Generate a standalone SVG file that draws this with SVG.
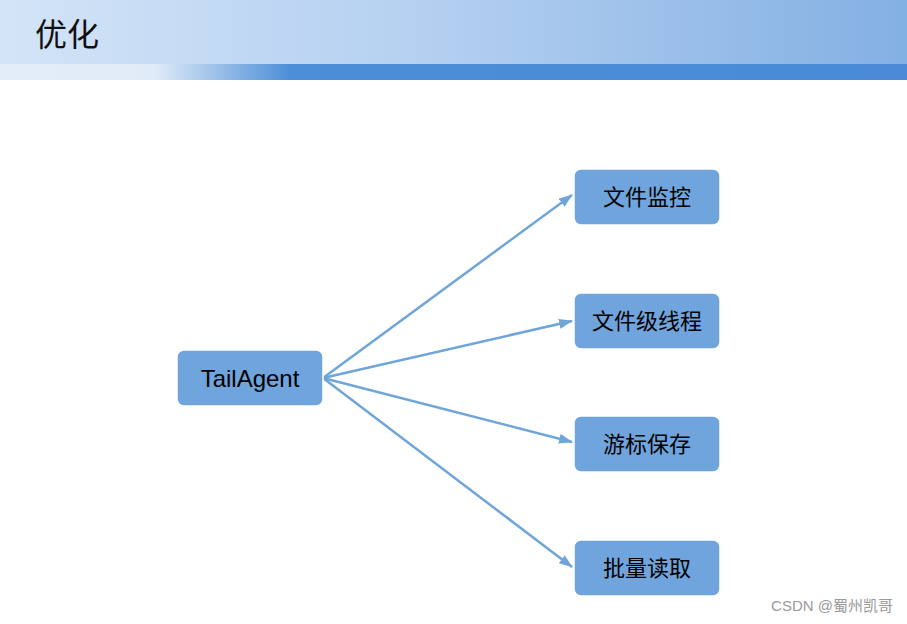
<svg xmlns="http://www.w3.org/2000/svg" width="907" height="624" viewBox="0 0 907 624">
<defs>
<linearGradient id="hdr" x1="0" y1="0" x2="1" y2="0">
<stop offset="0" stop-color="#d3e4f7"/>
<stop offset="0.5" stop-color="#b2cef0"/>
<stop offset="1" stop-color="#83b0e3"/>
</linearGradient>
<linearGradient id="band" x1="0" y1="0" x2="1" y2="0">
<stop offset="0" stop-color="#e3edf8"/>
<stop offset="0.17" stop-color="#e0ebf8"/>
<stop offset="0.32" stop-color="#4d8ed8"/>
<stop offset="1" stop-color="#4a8ad6"/>
</linearGradient>
<marker id="ah" viewBox="0 0 14 10" refX="13" refY="5" markerWidth="14" markerHeight="10" markerUnits="userSpaceOnUse" orient="auto">
<path d="M0,0 L14,5 L0,10 z" fill="#6fa5d8"/>
</marker>
<style>
.box{fill:#6fa4dc;stroke:#ffffff;stroke-width:1.5}
.lbl{font-family:"Liberation Sans","Noto Sans CJK SC",sans-serif;font-size:22px;fill:#000;text-anchor:middle}
.conn{stroke:#6fa5d8;stroke-width:2.5;fill:none}
</style>
</defs>
<rect width="907" height="624" fill="#ffffff"/>
<rect x="0" y="0" width="907" height="64" fill="url(#hdr)"/>
<rect x="0" y="64" width="907" height="16" fill="url(#band)"/>
<text x="35" y="46" font-family="'Noto Sans CJK SC',sans-serif" font-size="32" fill="#111">优化</text>
<g id="connectors">
<line class="conn" x1="323" y1="378" x2="572" y2="195" marker-end="url(#ah)"/>
<line class="conn" x1="323" y1="378" x2="572" y2="321" marker-end="url(#ah)"/>
<line class="conn" x1="323" y1="378" x2="572" y2="442" marker-end="url(#ah)"/>
<line class="conn" x1="323" y1="378" x2="572" y2="567" marker-end="url(#ah)"/>
</g>
<g id="n-tailagent">
<rect class="box" x="177" y="350" width="146" height="56" rx="7"/>
<text class="lbl" x="250" y="387" style="font-family:'Liberation Sans',sans-serif;font-size:24px">TailAgent</text>
</g>
<g id="n-monitor">
<rect class="box" x="574" y="169" width="146" height="56" rx="7"/>
<text class="lbl" x="647" y="205">文件监控</text>
</g>
<g id="n-thread">
<rect class="box" x="574" y="293" width="146" height="56" rx="7"/>
<text class="lbl" x="647" y="329">文件级线程</text>
</g>
<g id="n-cursor">
<rect class="box" x="574" y="416" width="146" height="56" rx="7"/>
<text class="lbl" x="647" y="452">游标保存</text>
</g>
<g id="n-batch">
<rect class="box" x="574" y="540" width="146" height="56" rx="7"/>
<text class="lbl" x="647" y="576">批量读取</text>
</g>
<text x="893" y="611" text-anchor="end" font-family="'Liberation Sans','Noto Sans CJK SC',sans-serif" font-size="15" fill="#999">CSDN @蜀州凯哥</text>
</svg>
